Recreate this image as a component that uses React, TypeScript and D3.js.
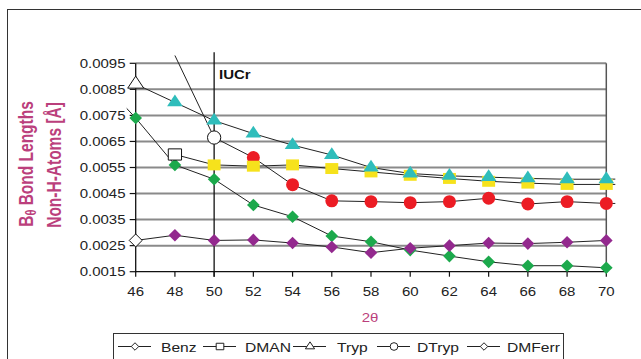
import React from 'react';
import * as d3 from 'd3';

// 2θ positions (44 and 72 only carry the line ends that run past the axes)
const twoTheta = [44, 46, 48, 50, 52, 54, 56, 58, 60, 62, 64, 66, 68, 70, 72];

const benz = [null, 0.0027, 0.0029, 0.0027, 0.00272, 0.0026, 0.00245, 0.00223, 0.0024, 0.0025, 0.0026, 0.00258, 0.00263, 0.0027, null];
const dman = [null, null, 0.006, 0.0056, 0.00555, 0.0056, 0.00546, 0.00533, 0.0052, 0.00508, 0.00497, 0.0049, 0.00485, 0.00485, 0.00485];
const tryp = [null, 0.0087, 0.008, 0.0073, 0.0068, 0.00636, 0.00598, 0.0055, 0.00527, 0.00518, 0.00513, 0.00508, 0.00505, 0.00505, 0.00507];
const dtryp = [null, null, 0.0098, 0.00665, 0.00588, 0.00484, 0.00422, 0.00419, 0.00415, 0.00419, 0.00432, 0.0041, 0.00419, 0.00412, 0.00412];
const dmferr = [0.009, 0.0074, 0.0056, 0.00505, 0.00406, 0.00361, 0.00287, 0.00265, 0.00233, 0.0021, 0.00188, 0.00173, 0.00173, 0.00165, null];

const seriesNames = ['Benz', 'DMAN', 'Tryp', 'DTryp', 'DMFerr'];
const seriesValues = [benz, dman, tryp, dtryp, dmferr];
const seriesColors = ['#93298e', '#f6e21c', '#2fbdbb', '#ec1c24', '#1ca94c'];
const seriesShapes = ['diamond', 'square', 'triangle', 'circle', 'diamond'];
// first point drawn as open marker
const hollowAt = [46, 48, 46, 50, null];
// drawing order of the marker layers
const drawOrder = [4, 3, 1, 2, 0];

const xTicks = [46, 48, 50, 52, 54, 56, 58, 60, 62, 64, 66, 68, 70];
const yTicks = [0.0015, 0.0025, 0.0035, 0.0045, 0.0055, 0.0065, 0.0075, 0.0085, 0.0095];
const markerX = 50;
const markerLabel = 'IUCr';

const W = 641;
const H = 359;
const SX = 1.25; // the source picture is stretched sideways

const x = d3.scaleLinear().domain([46, 70]).range([135.7, 606.3]);
const y = d3.scaleLinear().domain([0.0015, 0.0095]).range([271.7, 63.3]);

const shapeSpec: any = {
  diamond: { type: d3.symbolSquare, size: 80, rot: 45, sx: 1 },
  square: { type: d3.symbolSquare, size: 120, rot: 0, sx: 1.18 },
  triangle: { type: d3.symbolTriangle, size: 80, rot: 0, sx: 1.15 },
  circle: { type: d3.symbolCircle, size: 132, rot: 0, sx: 1 },
};

const Marker = ({ shape, cx, cy, fill, stroke, scale = 1 }: any) => {
  const s = shapeSpec[shape];
  return (
    <path
      d={d3.symbol(s.type, s.size * scale)() || ''}
      transform={`translate(${cx},${cy}) scale(${s.sx},1) rotate(${s.rot})`}
      fill={fill}
      stroke={stroke}
      strokeWidth={1}
      vectorEffect="non-scaling-stroke"
    />
  );
};

const SText = ({ x0, y0, children, anchor = 'start', size = 12, weight = 'normal', fill = '#222', rotate = 0 }: any) => (
  <g transform={`translate(${x0},${y0}) scale(${SX},1) rotate(${rotate})`}>
    <text textAnchor={anchor} fontSize={size} fontWeight={weight} fill={fill} fontFamily="Liberation Sans, Arial, sans-serif">
      {children}
    </text>
  </g>
);

const App = () => {
  const line = d3.line<[number, number | null]>()
    .defined(d => d[1] != null)
    .x(d => x(d[0]))
    .y(d => y(d[1] as number));

  const [x0, x1] = x.range();
  const [yb, yt] = y.range();
  const titleColor = '#bb3f7c';

  const legendX = [118, 203, 293, 377, 467];
  const legendTextX = [161, 245, 337, 417, 507];

  return (
    <svg width={W} height={H} style={{ position: 'absolute', left: 0, top: 0, background: '#fff' }}>
      <defs>
        <clipPath id="plotClip">
          <rect x={x0 - 9} y={yt - 10} width={x1 - x0 + 18} height={yb - yt + 20} />
        </clipPath>
      </defs>
      {/* outer frame */}
      <rect x={7.5} y={9.5} width={W} height={H} fill="none" stroke="#333" strokeWidth={1} />

      {/* gridlines */}
      {yTicks.map(t => (
        <line key={t} x1={x0} x2={x1} y1={y(t)} y2={y(t)} stroke={t === 0.0015 ? '#111' : '#8a8a8a'} strokeWidth={t === 0.0015 ? 1.3 : 2} />
      ))}
      <line x1={x1} x2={x1} y1={yt} y2={yb} stroke="#555" strokeWidth={1.5} />
      <line x1={x0} x2={x0} y1={yt} y2={yb + 0.5} stroke="#111" strokeWidth={1.3} />
      {yTicks.map(t => (
        <line key={'yt' + t} x1={x0 - 6} x2={x0} y1={y(t)} y2={y(t)} stroke="#111" strokeWidth={1.2} />
      ))}
      {xTicks.map(t => (
        <line key={'xt' + t} x1={x(t)} x2={x(t)} y1={yb} y2={yb + 5} stroke="#111" strokeWidth={1.2} />
      ))}
      {/* IUCr marker line */}
      <line x1={x(markerX)} x2={x(markerX)} y1={yt - 11} y2={yb + 5} stroke="#111" strokeWidth={1.3} />
      <SText x0={219} y0={78.5} weight="bold" fill="#111">{markerLabel}</SText>

      {/* tick labels */}
      {yTicks.map(t => (
        <SText key={'yl' + t} x0={125.5} y0={y(t) + 4.5} anchor="end">{d3.format('.4f')(t)}</SText>
      ))}
      {xTicks.map(t => (
        <SText key={'xl' + t} x0={x(t)} y0={296} anchor="middle">{t}</SText>
      ))}

      {/* series lines */}
      <g clipPath="url(#plotClip)">
        {seriesValues.map((vals, i) => (
          <path key={'l' + i} d={line(twoTheta.map((t, j) => [t, vals[j]]) as any) || ''} fill="none" stroke="#222" strokeWidth={1} />
        ))}
      </g>

      {/* markers */}
      {drawOrder.map(i => (
        <g key={'m' + i}>
          {twoTheta.map((t, j) => {
            const v = seriesValues[i][j];
            if (v == null || t < 46 || t > 70 || v > 0.0095) return null;
            const hollow = hollowAt[i] === t;
            return (
              <Marker key={t} shape={seriesShapes[i]} cx={x(t)} cy={y(v)}
                fill={hollow ? '#fff' : seriesColors[i]}
                stroke={hollow ? '#111' : 'none'}
                scale={hollow ? 1.05 : 1} />
            );
          })}
        </g>
      ))}

      {/* axis titles */}
      <SText x0={370} y0={322} anchor="middle" fill={titleColor}>2θ</SText>
      <SText x0={32.5} y0={164} anchor="middle" size={15.5} weight="bold" fill={titleColor} rotate={-90}>
        B<tspan fontSize={11} dy={3}>θ</tspan><tspan dy={-3}> Bond Lengths</tspan>
      </SText>
      <SText x0={60.5} y0={165} anchor="middle" size={15.5} weight="bold" fill={titleColor} rotate={-90}>
        Non-H-Atoms [Å]
      </SText>

      {/* legend */}
      <rect x={113.5} y={333.5} width={450} height={40} fill="#fff" stroke="#333" strokeWidth={1} />
      {seriesNames.map((name, i) => (
        <g key={'lg' + name}>
          <line x1={legendX[i]} x2={legendX[i] + 33} y1={346.5} y2={346.5} stroke="#222" strokeWidth={1} />
          <Marker shape={seriesShapes[i]} cx={legendX[i] + 17} cy={346.5} fill="#fff" stroke="#222" scale={0.35} />
          <SText x0={legendTextX[i]} y0={351.5} size={12.5}>{name}</SText>
        </g>
      ))}
    </svg>
  );
};

export default App;
